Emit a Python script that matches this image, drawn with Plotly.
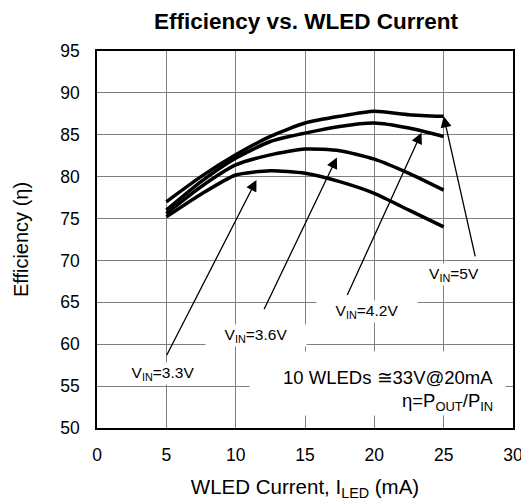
import plotly.graph_objects as go

current = [5, 7.5, 10, 12.5, 15, 17.5, 20, 22.5, 25]
eff_5v0 = [77.0, 80.0, 82.6, 84.8, 86.4, 87.2, 87.8, 87.4, 87.2]
eff_4v2 = [76.0, 79.4, 82.2, 84.2, 85.2, 86.0, 86.4, 85.8, 84.8]
eff_3v6 = [75.6, 78.8, 81.4, 82.6, 83.3, 83.1, 82.1, 80.4, 78.4]
eff_3v3 = [75.2, 77.9, 80.2, 80.7, 80.4, 79.4, 78.0, 76.0, 74.0]

series = [("V<sub>IN</sub>=5V", eff_5v0), ("V<sub>IN</sub>=4.2V", eff_4v2),
          ("V<sub>IN</sub>=3.6V", eff_3v6), ("V<sub>IN</sub>=3.3V", eff_3v3)]

# label text, label center (x, y), arrow tail (x, y), arrow tip (x, y)
labels = [
    ("V<sub>IN</sub>=3.3V", 4.76, 56.5, 4.97, 58.5, 11.5, 79.6),
    ("V<sub>IN</sub>=3.6V", 11.5, 61.0, 12.0, 64.0, 17.3, 82.3),
    ("V<sub>IN</sub>=4.2V", 19.5, 63.9, 18.0, 65.7, 23.4, 85.25),
    ("V<sub>IN</sub>=5V", 25.75, 68.3, 27.3, 70.3, 25.0, 87.2),
]

note_line1 = "10 WLEDs \u224533V@20mA"
note_line2 = "\u03b7=P<sub>OUT</sub>/P<sub>IN</sub>"

FONT = "Liberation Sans, Arial, sans-serif"
fig = go.Figure()
for name, vals in series:
    fig.add_trace(go.Scatter(x=current, y=vals, mode="lines", name=name,
                             line=dict(color="black", width=3.5, shape="spline", smoothing=0.6),
                             showlegend=False))

ann = []
for txt, lx, ly, tx, ty, hx, hy in labels:
    ann.append(dict(x=hx, y=hy, ax=tx, ay=ty, xref="x", yref="y", axref="x", ayref="y",
                    text="", showarrow=True, arrowhead=2, arrowsize=1.7, arrowwidth=1.3,
                    arrowcolor="black", standoff=0))
    ann.append(dict(x=lx, y=ly, xref="x", yref="y", text=txt, showarrow=False,
                    font=dict(family=FONT, size=15.5, color="black"),
                    bgcolor="white", borderpad=1, width=98))

# white box behind the note
ann.append(dict(x=20.2, y=55.3, xref="x", yref="y", text=" ", showarrow=False,
                bgcolor="white", width=253, height=61, borderpad=1))
ann.append(dict(x=28.7, y=56.0, xref="x", yref="y", xanchor="right", text=note_line1,
                showarrow=False, font=dict(family=FONT, size=18.5, color="black")))
ann.append(dict(x=28.7, y=53.1, xref="x", yref="y", xanchor="right", text=note_line2,
                showarrow=False, font=dict(family=FONT, size=18.5, color="black")))

fig.update_layout(
    width=529, height=504,
    margin=dict(l=89, r=24, t=43, b=84),
    paper_bgcolor="white", plot_bgcolor="white",
    font=dict(family=FONT, size=17, color="black"),
    title=dict(text="<b>Efficiency vs. WLED Current</b>", x=298 / 529, xanchor="center",
               y=1 - 13 / 504, yanchor="middle", font=dict(family=FONT, size=22.5, color="black")),
    annotations=ann,
)
fig.update_xaxes(range=[0, 30], dtick=5, tick0=0, showgrid=True, gridcolor="#7f7f7f",
                 gridwidth=1, showline=True, linecolor="black", linewidth=1.5, mirror=True,
                 ticks="", zeroline=False, automargin=False, ticklabelstandoff=10,
                 tickfont=dict(family=FONT, size=17.5),
                 title=dict(text="WLED Current, I<sub>LED</sub> (mA)", standoff=16,
                            font=dict(family=FONT, size=20.5)))
fig.update_yaxes(range=[50, 95], dtick=5, tick0=50, showgrid=True, gridcolor="#7f7f7f",
                 gridwidth=1, showline=True, linecolor="black", linewidth=1.5, mirror=True,
                 ticks="", zeroline=False, automargin=False, ticklabelstandoff=12,
                 tickfont=dict(family=FONT, size=17.5),
                 title=dict(text="Efficiency (\u03b7)", standoff=26,
                            font=dict(family=FONT, size=20)))

fig.write_html("out.html")
